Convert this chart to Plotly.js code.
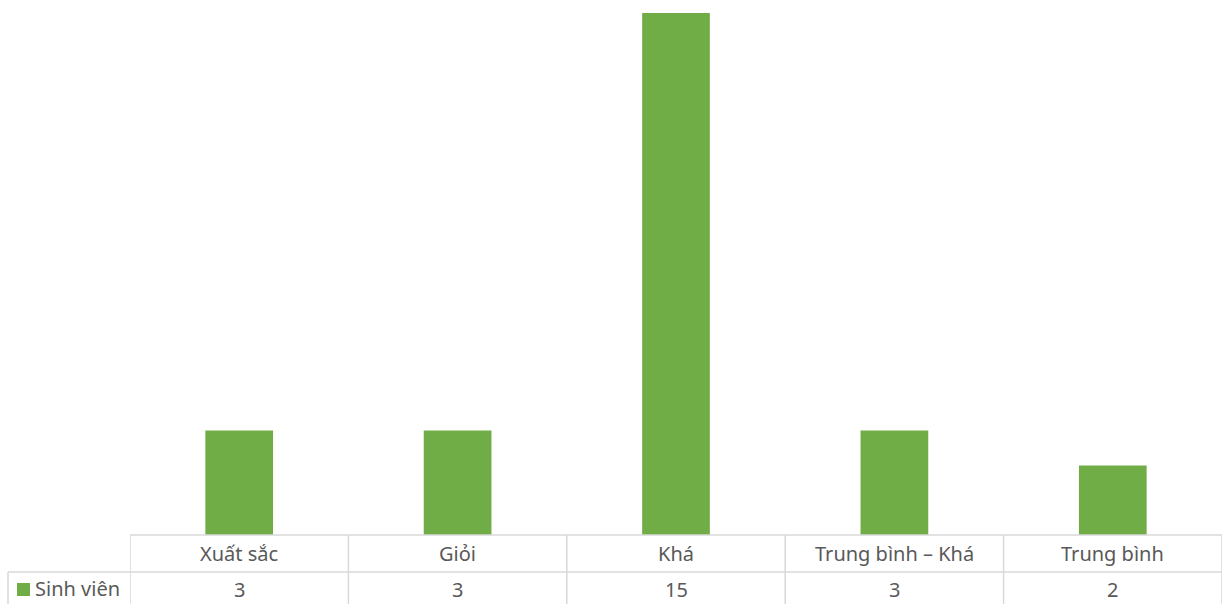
<!DOCTYPE html>
<html>
<head>
<meta charset="utf-8">
<script src="https://cdn.plot.ly/plotly-3.0.1.min.js"></script>
<style>html,body{margin:0;padding:0;background:#fff;}#chart{width:1223px;height:604px;}</style>
</head>
<body>
<div id="chart"></div>
<script>
const categories = ["Xuất sắc", "Giỏi", "Khá", "Trung bình – Khá", "Trung bình"];
const values = [3, 3, 15, 3, 2];
const seriesName = "Sinh viên";

const W = 1223, H = 604;
const mL = 130, mR = 1, mT = 0, mB = 69;
const plotH = H - mT - mB;   // 535
const plotW = W - mL - mR;   // 1092
const py = px => -(px) / plotH;          // px below the axis -> paper y
const pxX = px => (px - mL) / plotW;     // absolute px -> paper x

const lineColor = "#d9d9d9";
const textColor = "#595959";
const fontFam = "'Noto Sans', 'Open Sans', sans-serif";
const fs = 20;

const shapes = [];
shapes.push({type:"line", xref:"paper", yref:"paper", x0:0, x1:1, y0:0, y1:0, line:{color:lineColor, width:1.5}});
shapes.push({type:"line", xref:"paper", yref:"paper", x0:pxX(8), x1:1, y0:py(37), y1:py(37), line:{color:lineColor, width:1.5}});
for (let i = 0; i <= categories.length; i++) {
  shapes.push({type:"line", xref:"x", yref:"paper", x0:i-0.5, x1:i-0.5, y0:0, y1:py(72), line:{color:lineColor, width:1.5}});
}
shapes.push({type:"line", xref:"paper", yref:"paper", x0:pxX(8), x1:pxX(8), y0:py(37), y1:py(72), line:{color:lineColor, width:1.5}});
shapes.push({type:"rect", xref:"paper", yref:"paper", x0:pxX(17), x1:pxX(30), y0:py(48), y1:py(61), fillcolor:"#70ad47", line:{width:0}});

const annotations = [];
categories.forEach((c, i) => {
  annotations.push({xref:"x", yref:"paper", x:i, y:py(18), text:c, showarrow:false, xanchor:"center", yanchor:"middle",
    font:{family:fontFam, size:fs, color:textColor}});
  annotations.push({xref:"x", yref:"paper", x:i, y:py(54), text:String(values[i]), showarrow:false, xanchor:"center", yanchor:"middle",
    font:{family:fontFam, size:fs, color:textColor}});
});
annotations.push({xref:"paper", yref:"paper", x:pxX(33), y:py(53), text:seriesName, showarrow:false, xanchor:"left", yanchor:"middle",
  font:{family:fontFam, size:fs, color:textColor}});

Plotly.newPlot("chart", [{
  type:"bar", x:categories, y:values, name:seriesName,
  marker:{color:"#70ad47"}, width:0.31, hoverinfo:"x+y"
}], {
  width:W, height:H,
  margin:{l:mL, r:mR, t:mT, b:mB, pad:0},
  paper_bgcolor:"#ffffff", plot_bgcolor:"#ffffff",
  showlegend:false,
  xaxis:{type:"category", range:[-0.5, 4.5], showticklabels:false, showgrid:false, zeroline:false, showline:false, ticks:""},
  yaxis:{range:[0, 15.37], visible:false, showgrid:false, zeroline:false},
  shapes:shapes,
  annotations:annotations
}, {displayModeBar:false, staticPlot:true});
</script>
</body>
</html>
